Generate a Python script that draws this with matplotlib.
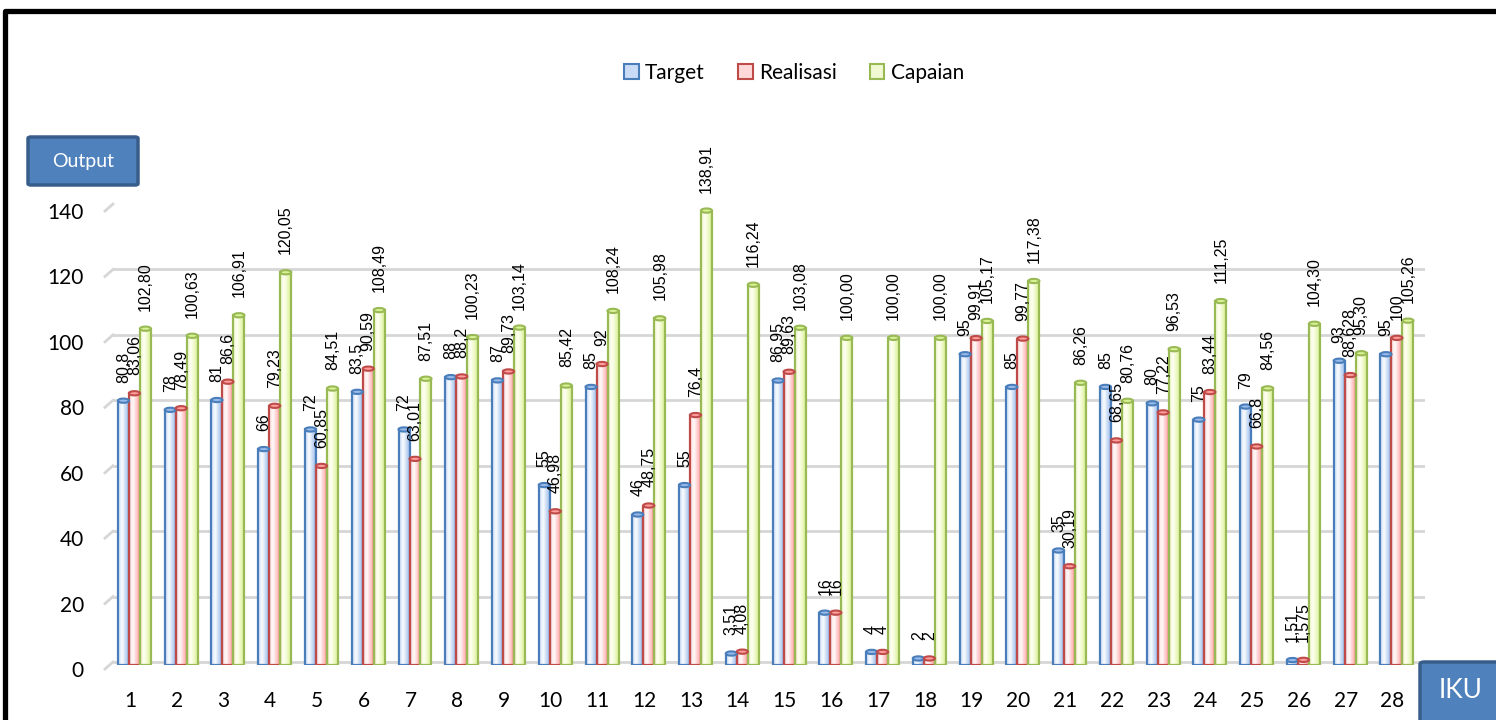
import numpy as np
import matplotlib.pyplot as plt
from matplotlib.patches import Rectangle, Ellipse, Patch, FancyBboxPatch
from matplotlib.colors import LinearSegmentedColormap
from matplotlib.lines import Line2D
from matplotlib.transforms import ScaledTranslation

# data
iku = list(range(1, 29))
target = [80.8, 78, 81, 66, 72, 83.5, 72, 88, 87, 55, 85, 46, 55, 3.51,
          86.95, 16, 4, 2, 95, 85, 35, 85, 80, 75, 79, 1.51, 93, 95]
realisasi = [83.06, 78.49, 86.6, 79.23, 60.85, 90.59, 63.01, 88.2, 89.73, 46.98,
             92, 48.75, 76.4, 4.08, 89.63, 16, 4, 2, 99.91, 99.77, 30.19, 68.65,
             77.22, 83.44, 66.8, 1.575, 88.628, 100]
capaian = [102.80, 100.63, 106.91, 120.05, 84.51, 108.49, 87.51, 100.23, 103.14,
           85.42, 108.24, 105.98, 138.91, 116.24, 103.08, 100.00, 100.00, 100.00,
           105.17, 117.38, 86.26, 80.76, 96.53, 111.25, 84.56, 104.30, 95.30, 105.26]
yticks = [0, 20, 40, 60, 80, 100, 120, 140]

def fmt_general(v):
    return ('%g' % v).replace('.', ',')

def fmt_2dp(v):
    return ('%.2f' % v).replace('.', ',')

series = [
    ('Target', target, fmt_general, '#4A7EBB', ['#C9DBF5', '#FAFCFF', '#98BAEA']),
    ('Realisasi', realisasi, fmt_general, '#BE4B48', ['#FFD9D9', '#FFFAFA', '#FF9C9C']),
    ('Capaian', capaian, fmt_2dp, '#98B954', ['#F0F9D2', '#FFFFF2', '#D8F193']),
]

W, H = 1496, 720
fig = plt.figure(figsize=(W / 100, H / 100), dpi=100)

# pixel geometry of the plot area (front plane of the bars)
x_left, x_right = 113, 1425
y_zero, y_top = 665, 207
ax = fig.add_axes([x_left / W, 1 - y_zero / H, (x_right - x_left) / W, (y_zero - y_top) / H])

spacing = (1392.5 - 130) / 27
xlo = 1 - (130 - x_left) / spacing
xhi = 28 + (x_right - 1392.5) / spacing

width = 0.235
offsets = [-0.14, 0.095, 0.33]
cap_h = 1.3

for (name, vals, fmt, edge, stops), off in zip(series, offsets):
    cmap = LinearSegmentedColormap.from_list(name, [(0, stops[0]), (0.38, stops[1]), (1, stops[2])])
    grad = np.linspace(0, 1, 64).reshape(1, -1)
    for x, v in zip(iku, vals):
        x0 = x + off - width / 2
        rect = Rectangle((x0, 0), width, v, facecolor='none', edgecolor=edge, lw=1.6, zorder=3)
        ax.add_patch(rect)
        im = ax.imshow(grad, cmap=cmap, extent=(x0, x0 + width, 0, v), aspect='auto',
                       origin='lower', zorder=2, interpolation='bilinear')
        im.set_clip_path(rect)
        ax.add_patch(Ellipse((x + off, v), width, cap_h, facecolor=stops[2], edgecolor=edge,
                             lw=1.5, zorder=4))
        ax.annotate(fmt(v), (x + off, v), xytext=(0, 13), textcoords='offset points',
                    rotation=90, ha='center', va='bottom', fontsize=11.5,
                    family='Liberation Sans', color='black', zorder=5, annotation_clip=False)

ax.set_xlim(xlo, xhi)
ax.set_ylim(0, 140)
ax.set_xticks(iku)
ax.set_xticklabels([str(i) for i in iku], fontsize=15, family='Lato')
ax.set_yticks(yticks)
ax.set_yticklabels([str(t) for t in yticks], fontsize=15, family='Lato')
ax.tick_params(axis='both', length=0)
ax.tick_params(axis='y', pad=21)
ax.tick_params(axis='x', pad=19)
for lab in ax.get_yticklabels():
    lab.set_transform(lab.get_transform() + ScaledTranslation(0, -0.04, fig.dpi_scale_trans))
ax.grid(axis='y', color='#D6D6D6', lw=2)
# gridlines sit on the back wall, a little above the bar fronts
for gl in ax.yaxis.get_gridlines():
    gl.set_transform(gl.get_transform() + ScaledTranslation(0, 0.03, fig.dpi_scale_trans))
ax.set_axisbelow(True)
for s in ax.spines.values():
    s.set_visible(False)

# little 3D slant at the left end of each gridline
scale = (y_zero - y_top) / 140
for t in yticks:
    yp = y_zero - 3 - t * scale
    fig.add_artist(Line2D([105 / W, x_left / W], [1 - (yp + 7) / H, 1 - yp / H],
                          color='#D6D6D6', lw=2))

# legend
handles = [Patch(facecolor=s[4][0], edgecolor=s[3], lw=1.5, label=s[0]) for s in series]
fig.legend(handles=handles, loc='center', bbox_to_anchor=(794 / W, 1 - 73 / H), ncol=3,
           frameon=False, handlelength=0.7, handleheight=0.7, handletextpad=0.3,
           columnspacing=1.6, prop={'family': 'Lato', 'size': 15})

# "Output" box
fig.add_artist(FancyBboxPatch((28 / W, 1 - 185 / H), 110 / W, 48 / H,
                              boxstyle='round,pad=0,rounding_size=0.002',
                              facecolor='#4F81BD', edgecolor='#385D8A', lw=2.5))
fig.text(83 / W, 1 - 161 / H, 'Output', color='white', fontsize=14, family='Lato',
         ha='center', va='center')

# "IKU" box
fig.add_artist(FancyBboxPatch((1420 / W, -0.02), 100 / W, (720 - 662) / H + 0.02,
                              boxstyle='round,pad=0,rounding_size=0.003',
                              facecolor='#4F81BD', edgecolor='#385D8A', lw=2.5))
fig.text(1461 / W, 1 - 690 / H, 'IKU', color='white', fontsize=19, family='Lato',
         ha='center', va='center')

# outer chart frame
fig.add_artist(Rectangle((5 / W, -0.1), 1.2, 1.1 - 10.5 / H, transform=fig.transFigure,
                         facecolor='none', edgecolor='black', lw=3.8, joinstyle='round'))

fig.savefig('out.png', dpi=100)
